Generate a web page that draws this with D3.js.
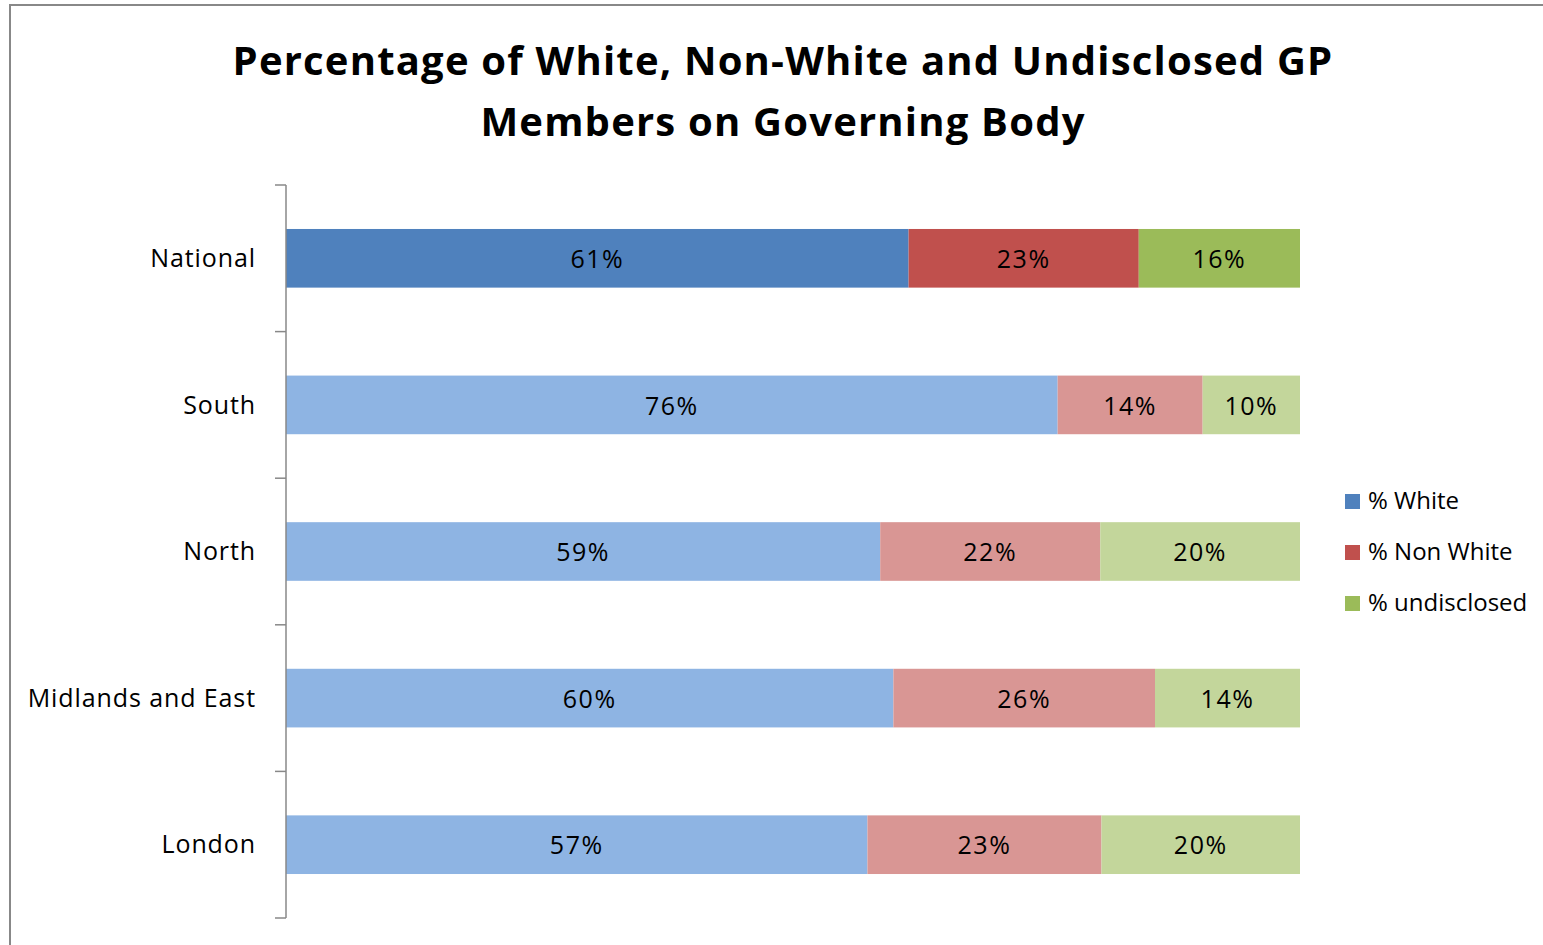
<!DOCTYPE html>
<html>
<head>
<meta charset="utf-8">
<script src="https://cdn.jsdelivr.net/npm/d3@7"></script>
<style>
  body { margin: 0; background: #fff; }
  text { font-family: "Open Sans", Lato, sans-serif; }
</style>
</head>
<body>
<div id="chart-area"></div>
<script>
// values (each row sums to ~100)
var regions = ["National", "South", "North", "Midlands and East", "London"]
var white = [61.4, 76.1, 58.6, 59.9, 57.4]
var nonWhite = [22.7, 14.3, 21.7, 25.8, 23.1]
var undisclosed = [15.9, 9.6, 19.7, 14.3, 19.6]
var seriesNames = ["% White", "% Non White", "% undisclosed"]

var darkColors = ["#4F81BD", "#C0504D", "#9BBB59"]
var lightColors = ["#8EB4E3", "#D99694", "#C3D69B"]

var width = 1543, height = 945

var svg = d3.select("#chart-area").append("svg")
  .attr("width", width)
  .attr("height", height)

// outer frame (only left and top edges show)
svg.append("path")
  .attr("d", "M10,945 L10,5 L1543,5")
  .attr("fill", "none")
  .attr("stroke", "#888")
  .attr("stroke-width", 2)

svg.append("text")
  .attr("x", 783).attr("y", 75)
  .attr("text-anchor", "middle")
  .attr("font-size", 40).attr("font-weight", "bold")
  .attr("letter-spacing", 1.2)
  .text("Percentage of White, Non-White and Undisclosed GP")
svg.append("text")
  .attr("x", 783).attr("y", 136)
  .attr("text-anchor", "middle")
  .attr("font-size", 40).attr("font-weight", "bold")
  .attr("letter-spacing", 1.2)
  .text("Members on Governing Body")

var data = regions.map(function (r, i) {
  return { region: r, values: [white[i], nonWhite[i], undisclosed[i]] }
})

var x = d3.scaleLinear().domain([0, 100]).range([286, 1300])
var y = d3.scaleBand().domain(regions).range([185, 918]).paddingInner(0.6).paddingOuter(0.3)

var rows = svg.selectAll("g.row")
  .data(data)
  .enter()
  .append("g")
  .attr("class", "row")

rows.each(function (d, i) {
  var g = d3.select(this)
  var start = 0
  var total = d3.sum(d.values)
  d.values.forEach(function (v, j) {
    var s = start / total * 100, e = (start + v) / total * 100
    start += v
    g.append("rect")
      .attr("x", x(s))
      .attr("y", y(d.region))
      .attr("width", x(e) - x(s))
      .attr("height", y.bandwidth())
      .attr("fill", i == 0 ? darkColors[j] : lightColors[j])
    g.append("text")
      .attr("x", (x(s) + x(e)) / 2)
      .attr("y", y(d.region) + y.bandwidth() / 2 + 1)
      .attr("dy", "0.35em")
      .attr("text-anchor", "middle")
      .attr("font-size", 25)
      .attr("letter-spacing", 1.5)
      .attr("fill", "#000")
      .text(d3.format(".0f")(v) + "%")
  })
})

// category axis with ticks between categories
var tickYs = d3.range(regions.length + 1).map(function (k) {
  return y.range()[0] + k * (y.range()[1] - y.range()[0]) / regions.length
})
svg.append("line")
  .attr("x1", 286).attr("x2", 286)
  .attr("y1", 185).attr("y2", 918)
  .attr("stroke", "#888").attr("stroke-width", 1.5)
svg.selectAll("line.tick")
  .data(tickYs)
  .enter()
  .append("line")
  .attr("class", "tick")
  .attr("x1", 275).attr("x2", 286)
  .attr("y1", function (d) { return d })
  .attr("y2", function (d) { return d })
  .attr("stroke", "#888").attr("stroke-width", 1.5)

svg.selectAll("text.cat")
  .data(regions)
  .enter()
  .append("text")
  .attr("class", "cat")
  .attr("x", 256)
  .attr("y", function (d) { return y(d) + y.bandwidth() / 2 })
  .attr("dy", "0.35em")
  .attr("text-anchor", "end")
  .attr("font-size", 25)
  .attr("letter-spacing", 0.9)
  .text(function (d) { return d })

// legend
var legend = svg.selectAll("g.legend")
  .data(seriesNames)
  .enter()
  .append("g")
  .attr("class", "legend")
  .attr("transform", function (d, i) { return "translate(1345," + (501 + i * 51) + ")" })
legend.append("rect")
  .attr("x", 0).attr("y", -7)
  .attr("width", 15).attr("height", 15)
  .attr("fill", function (d, i) { return darkColors[i] })
legend.append("text")
  .attr("x", 23).attr("dy", "0.35em")
  .attr("font-size", 24)
  .text(function (d) { return d })
</script>
</body>
</html>
